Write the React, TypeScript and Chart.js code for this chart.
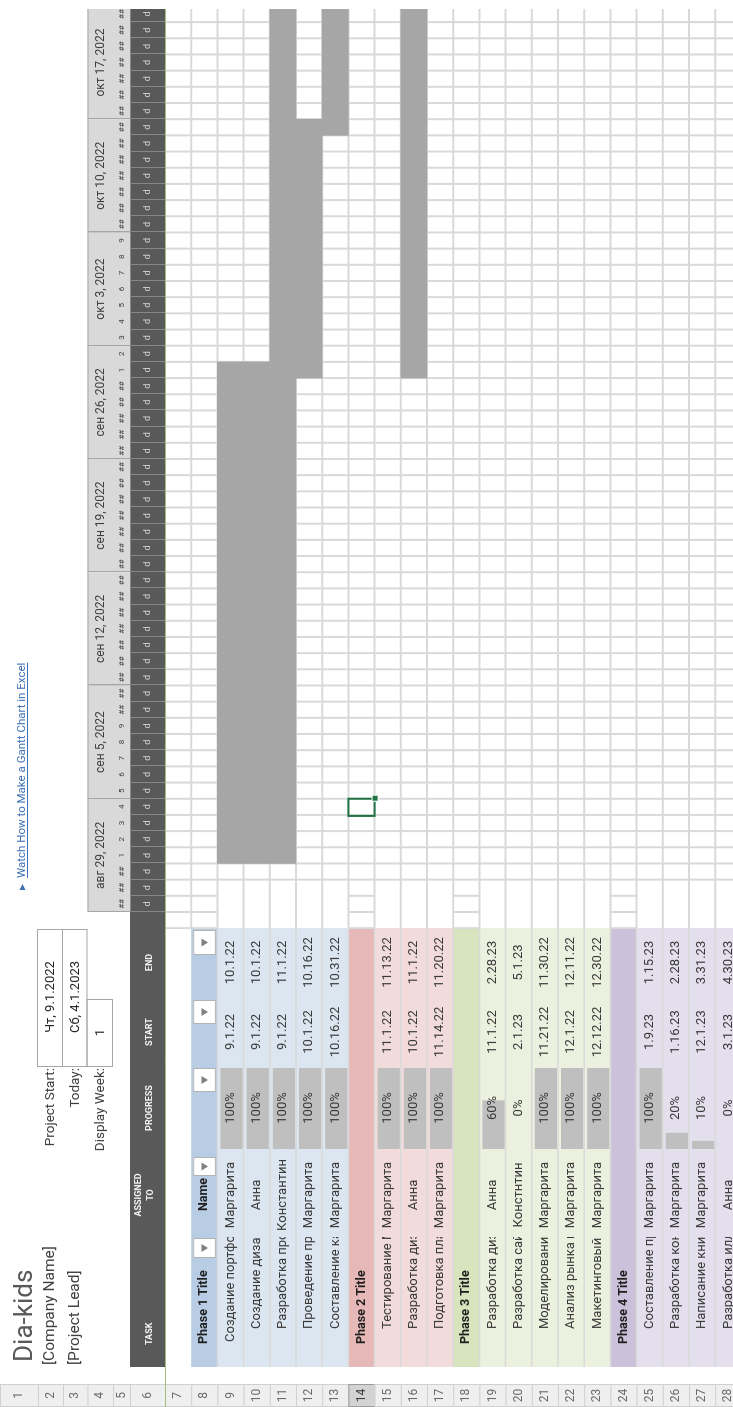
import React, { useEffect, useRef } from 'react';
import { Chart, registerables } from 'chart.js';

Chart.register(...registerables);

// ---------------- data ----------------
const rowIds = ['7', '8', '9', '10', '11', '12', '13', '14', '15', '16', '17', '18', '19', '20', '21', '22', '23', '24', '25', '26', '27', '28'];

const phaseRows = [8, 14, 18, 24];
const phaseTitles = ['Phase 1 Title', 'Phase 2 Title', 'Phase 3 Title', 'Phase 4 Title'];
const phaseHeadColors = ['#b8cce4', '#e6b9b8', '#d7e4bd', '#ccc1da'];
const phaseRowColors = ['#dce6f1', '#f2dcdb', '#ebf1de', '#e4dfec'];

const taskRows = [9, 10, 11, 12, 13, 15, 16, 17, 19, 20, 21, 22, 23, 25, 26, 27, 28];
const taskNames = [
  'Создание портфолио', 'Создание дизайна', 'Разработка программы', 'Проведение презентации', 'Составление каталога',
  'Тестирование Макетов', 'Разработка дизайна', 'Подготовка плана',
  'Разработка дизайна', 'Разработка сайта', 'Моделирование', 'Анализ рынка и конкурентов', 'Макетинговый план',
  'Составление программы', 'Разработка контента', 'Написание книги', 'Разработка иллюстраций',
];
const assignees = [
  'Маргарита', 'Анна', 'Константин', 'Маргарита', 'Маргарита',
  'Маргарита', 'Анна', 'Маргарита',
  'Анна', 'Констнтин', 'Маргарита', 'Маргарита', 'Маргарита',
  'Маргарита', 'Маргарита', 'Маргарита', 'Анна',
];
const progressPct = [100, 100, 100, 100, 100, 100, 100, 100, 60, 0, 100, 100, 100, 100, 20, 10, 0];
const startDates = [
  '9.1.22', '9.1.22', '9.1.22', '10.1.22', '10.16.22',
  '11.1.22', '10.1.22', '11.14.22',
  '11.1.22', '2.1.23', '11.21.22', '12.1.22', '12.12.22',
  '1.9.23', '1.16.23', '12.1.23', '3.1.23',
];
const endDates = [
  '10.1.22', '10.1.22', '11.1.22', '10.16.22', '10.31.22',
  '11.13.22', '11.1.22', '11.20.22',
  '2.28.23', '5.1.23', '11.30.22', '12.11.22', '12.30.22',
  '1.15.23', '2.28.23', '3.31.23', '4.30.23',
];
const weekLabels = ['авг 29, 2022', 'сен 5, 2022', 'сен 12, 2022', 'сен 19, 2022', 'сен 26, 2022', 'окт 3, 2022', 'окт 10, 2022', 'окт 17, 2022'];
const columnHeaders = ['TASK', 'ASSIGNED TO', 'PROGRESS', 'START', 'END'];
const titleText = 'Dia-kids';
const companyText = '[Company Name]';
const leadText = '[Project Lead]';
const projectStartText = 'Чт, 9.1.2022';
const todayText = 'Сб, 4.1.2023';
const displayWeekText = '1';
const linkText = 'Watch How to Make a Gantt Chart in Excel';
const selectedRow = 14;
const selectedDay = 6;

// ---------------- layout ----------------
const SHEET_W = 1407;
const SHEET_H = 733;
const CANVAS_H = 760;
const HEAD_EDGES = [0, 38, 63, 87.5, 113, 130, 165];
const ROW_H = 26.2;
const GANTT_LEFT = 495;
const GANTT_RIGHT = 1398;
const DAY_W = 16.18;
const C = { hdr: 23, task: 40, assigned: 170, progress: 250, start: 341, end: 408, endR: 479 };
const FONT = 'Roboto, "Noto Sans", "DejaVu Sans", sans-serif';
const BASE = Date.UTC(2022, 7, 29);

const dayIndex = (s: string) => {
  const [m, d, y] = s.split('.').map(Number);
  return Math.round((Date.UTC(2000 + y, m - 1, d) - BASE) / 86400000);
};

function phaseOf(r: number) {
  let p = 0;
  phaseRows.forEach((pr, i) => {
    if (r >= pr) p = i;
  });
  return p;
}

function drawSheet(chart: any) {
  const ctx: CanvasRenderingContext2D = chart.ctx;
  const xs = chart.scales.x;
  const ys = chart.scales.y;
  const area = chart.chartArea;
  const first = Number(rowIds[0]);
  const last = Number(rowIds[rowIds.length - 1]);
  const rh = ys.getPixelForValue(1) - ys.getPixelForValue(0);
  const top = (r: number) => (r < first ? HEAD_EDGES[r - 1] : ys.getPixelForValue(r - first) - rh / 2);
  const bot = (r: number) => (r < first ? HEAD_EDGES[r] : ys.getPixelForValue(r - first) + rh / 2);
  const mid = (r: number) => (top(r) + bot(r)) / 2;
  const dx = (d: number) => xs.getPixelForValue(d);
  const right = area.right;
  const nDays = Math.ceil(xs.max);

  const text = (s: string, x: number, y: number, font: string, color: string, align: CanvasTextAlign = 'left') => {
    ctx.font = font;
    ctx.fillStyle = color;
    ctx.textAlign = align;
    ctx.textBaseline = 'middle';
    ctx.fillText(s, x, y);
  };
  const hline = (y: number, x0: number, x1: number) => {
    ctx.beginPath();
    ctx.moveTo(x0, y);
    ctx.lineTo(x1, y);
    ctx.stroke();
  };
  const vline = (x: number, y0: number, y1: number) => {
    ctx.beginPath();
    ctx.moveTo(x, y0);
    ctx.lineTo(x, y1);
    ctx.stroke();
  };

  ctx.save();
  ctx.fillStyle = '#ffffff';
  ctx.fillRect(0, 0, chart.width, chart.height);

  // row header strip
  for (let r = 1; r <= last; r++) {
    const t = top(r);
    const b = bot(r);
    const sel = r === selectedRow;
    ctx.fillStyle = sel ? '#d3d3d3' : '#efefef';
    ctx.fillRect(0, t, C.hdr, b - t);
    ctx.strokeStyle = sel ? '#9b9b9b' : '#d0d0d0';
    ctx.lineWidth = 1;
    ctx.strokeRect(0.5, t + 0.5, C.hdr - 1, b - t);
    text(String(r), C.hdr / 2, (t + b) / 2, `12px ${FONT}`, sel ? '#3a3a3a' : '#6b6b6b', 'center');
  }

  // title block
  text(titleText, 45, 25, `26px ${FONT}`, '#595959');
  text(companyText, 42, 50.5, `15.5px ${FONT}`, '#404040');
  text(leadText, 42, 75.5, `15.5px ${FONT}`, '#404040');
  text('Project Start:', 339, mid(2), `13.5px ${FONT}`, '#404040', 'right');
  text('Today:', 339, mid(3), `13.5px ${FONT}`, '#404040', 'right');
  text('Display Week:', 339, mid(4), `13.5px ${FONT}`, '#404040', 'right');
  ctx.strokeStyle = '#a6a6a6';
  ctx.lineWidth = 1;
  ctx.fillStyle = '#ffffff';
  ctx.strokeRect(C.start - 0.5, top(2) - 0.5, C.endR - C.start - 1, bot(2) - top(2));
  ctx.strokeRect(C.start - 0.5, top(3) - 0.5, C.endR - C.start - 1, bot(3) - top(3));
  ctx.strokeRect(C.start - 0.5, top(4) - 0.5, C.end - C.start, bot(4) - top(4));
  text(projectStartText, (C.start + C.endR) / 2, mid(2), `13px ${FONT}`, '#262626', 'center');
  text(todayText, (C.start + C.endR) / 2, mid(3), `13px ${FONT}`, '#262626', 'center');
  text(displayWeekText, (C.start + C.end) / 2, mid(4), `13px ${FONT}`, '#262626', 'center');

  // link
  ctx.fillStyle = '#3f6fb5';
  ctx.beginPath();
  ctx.moveTo(517, 19.5);
  ctx.lineTo(523, 22.5);
  ctx.lineTo(517, 25.5);
  ctx.closePath();
  ctx.fill();
  text(linkText, 529, 22, `11.5px ${FONT}`, '#3f6fb5');
  const lw = ctx.measureText(linkText).width;
  ctx.strokeStyle = '#3f6fb5';
  ctx.lineWidth = 1;
  hline(27.5, 529, 529 + lw);

  // gantt header: weeks + day numbers
  ctx.save();
  ctx.beginPath();
  ctx.rect(dx(0) - 1, 0, right - dx(0) + 1, chart.height);
  ctx.clip();
  weekLabels.forEach((lab, w) => {
    const x0 = dx(w * 7);
    const x1 = dx(w * 7 + 7);
    ctx.fillStyle = '#d9d9d9';
    ctx.fillRect(x0, top(4), x1 - x0, bot(5) - top(4));
    ctx.strokeStyle = '#a6a6a6';
    ctx.lineWidth = 1;
    ctx.strokeRect(Math.round(x0) + 0.5, top(4) + 0.5, x1 - x0, bot(5) - top(4));
    text(lab, (x0 + x1) / 2, 101, `12px ${FONT}`, '#404040', 'center');
  });
  for (let d = 0; d < nDays; d++) {
    const dom = new Date(BASE + d * 86400000).getUTCDate();
    text(dom >= 10 ? '##' : String(dom), dx(d) + DAY_W / 2, 122, `8px ${FONT}`, '#404040', 'center');
  }
  ctx.restore();

  // row 6 dark band
  ctx.fillStyle = '#595959';
  ctx.fillRect(C.task, top(6), right - C.task, bot(6) - top(6));
  ctx.save();
  ctx.beginPath();
  ctx.rect(dx(0) - 1, top(6), right - dx(0) + 1, bot(6) - top(6));
  ctx.clip();
  ctx.strokeStyle = '#878787';
  ctx.lineWidth = 1;
  for (let d = 0; d <= nDays; d++) vline(Math.round(dx(d)) + 0.5, top(6), bot(6));
  hline(top(6) + 0.5, dx(0), right);
  for (let d = 0; d < nDays; d++) text('d', dx(d) + DAY_W / 2, 147.5, `9px ${FONT}`, '#dedede', 'center');
  ctx.restore();

  // column headers
  const hf = `bold 9px ${FONT}`;
  const hc = '#f2f2f2';
  text(columnHeaders[0], 62, 149.5, hf, hc);
  text('ASSIGNED', 212, 139, hf, hc, 'center');
  text('TO', 212, 151, hf, hc, 'center');
  text(columnHeaders[2], 299, 149.5, hf, hc, 'center');
  text(columnHeaders[3], 375, 149.5, hf, hc, 'center');
  text(columnHeaders[4], 444.5, 149.5, hf, hc, 'center');

  // table fills
  for (let r = phaseRows[0]; r <= last; r++) {
    const p = phaseOf(r);
    ctx.fillStyle = phaseRows.includes(r) ? phaseHeadColors[p] : phaseRowColors[p];
    ctx.fillRect(C.task, top(r), C.endR - C.task, bot(r) - top(r));
  }
  ctx.strokeStyle = '#d9d9d9';
  ctx.lineWidth = 1.5;
  for (let r = phaseRows[0] + 1; r <= last; r++) hline(top(r), C.task, C.endR);

  // phase titles
  phaseRows.forEach((r, i) => text(phaseTitles[i], 63, mid(r), `bold 12.5px ${FONT}`, '#1f1f1f'));

  // header filter row (first phase row)
  const fr = phaseRows[0];
  text('Name', 229, mid(fr), `bold 12.5px ${FONT}`, '#1f1f1f', 'right');
  const buttons = [[149, 169], [231, 250], [315, 339], [383, 407], [452, 477]];
  buttons.forEach(([x0, x1]) => {
    const t = top(fr) + 2;
    const b = bot(fr) - 1.5;
    ctx.fillStyle = '#ffffff';
    ctx.fillRect(x0, t, x1 - x0, b - t);
    ctx.strokeStyle = '#b3b3b3';
    ctx.lineWidth = 1;
    ctx.strokeRect(x0 + 0.5, t + 0.5, x1 - x0 - 1, b - t - 1);
    const cx = (x0 + x1) / 2;
    const cy = (t + b) / 2;
    ctx.fillStyle = '#7f7f7f';
    ctx.beginPath();
    ctx.moveTo(cx - 4, cy - 3);
    ctx.lineTo(cx + 4, cy - 3);
    ctx.lineTo(cx, cy + 3.5);
    ctx.closePath();
    ctx.fill();
  });

  // task rows
  taskRows.forEach((r, i) => {
    const y = mid(r);
    // progress bar
    ctx.fillStyle = '#bfbfbf';
    ctx.fillRect(258, top(r) + 3, (81 * progressPct[i]) / 100, bot(r) - top(r) - 4);
    // task name (clipped)
    ctx.save();
    ctx.beginPath();
    ctx.rect(C.task, top(r), C.assigned - C.task, bot(r) - top(r));
    ctx.clip();
    text(taskNames[i], r === taskRows[0] ? 65 : 78, y, `13px ${FONT}`, '#3a3a3a');
    ctx.restore();
    ctx.save();
    ctx.beginPath();
    ctx.rect(C.assigned, top(r), C.progress - C.assigned, bot(r) - top(r));
    ctx.clip();
    text(assignees[i], 212, y, `13px ${FONT}`, '#3a3a3a', 'center');
    ctx.restore();
    text(`${progressPct[i]}%`, 299, y, `13px ${FONT}`, '#3a3a3a', 'center');
    text(startDates[i], 375, y, `13px ${FONT}`, '#3a3a3a', 'center');
    text(endDates[i], 444.5, y, `13px ${FONT}`, '#3a3a3a', 'center');
  });

  // gantt grid
  ctx.save();
  ctx.beginPath();
  ctx.rect(dx(-1) - 1, top(first), right - dx(-1) + 1, bot(last) - top(first));
  ctx.clip();
  ctx.strokeStyle = '#d9d9d9';
  ctx.lineWidth = 2;
  for (let r = first; r <= last; r++) {
    const isTask = taskRows.includes(r);
    hline(bot(r), dx(-1), right);
    for (let d = -1; d <= nDays; d++) {
      if (isTask && d <= 1) continue;
      vline(dx(d), top(r), bot(r));
    }
  }
  ctx.restore();
  ctx.restore();
}

function drawOverlay(chart: any) {
  const ctx: CanvasRenderingContext2D = chart.ctx;
  const xs = chart.scales.x;
  const ys = chart.scales.y;
  const area = chart.chartArea;
  const first = Number(rowIds[0]);
  const rh = ys.getPixelForValue(1) - ys.getPixelForValue(0);
  const t = ys.getPixelForValue(selectedRow - first) - rh / 2;
  const x0 = xs.getPixelForValue(selectedDay);
  const x1 = xs.getPixelForValue(selectedDay + 1);
  ctx.save();
  ctx.strokeStyle = '#217346';
  ctx.lineWidth = 2;
  ctx.strokeRect(x0 - 1, t, x1 - x0 + 1, rh);
  ctx.fillStyle = '#ffffff';
  ctx.fillRect(x1 - 3, t + rh - 3, 7, 7);
  ctx.fillStyle = '#217346';
  ctx.fillRect(x1 - 2, t + rh - 2, 5, 5);
  // freeze pane line
  ctx.strokeStyle = '#a3bd7c';
  ctx.lineWidth = 1;
  ctx.beginPath();
  ctx.moveTo(0, area.top + 0.5);
  ctx.lineTo(area.right, area.top + 0.5);
  ctx.stroke();
  ctx.restore();
}

const sheetPlugin = {
  id: 'sheet',
  beforeDatasetsDraw: (chart: any) => drawSheet(chart),
  afterDatasetsDraw: (chart: any) => drawOverlay(chart),
};

export default function App() {
  const ref = useRef<HTMLCanvasElement>(null);
  useEffect(() => {
    document.body.style.margin = '0';
    document.body.style.overflow = 'hidden';
    document.documentElement.style.overflow = 'hidden';
    const tableTop = HEAD_EDGES[HEAD_EDGES.length - 1];
    const chart = new Chart(ref.current as HTMLCanvasElement, {
      type: 'bar',
      data: {
        labels: rowIds,
        datasets: [
          {
            data: taskRows.map((r, i) => ({ x: [dayIndex(startDates[i]), dayIndex(endDates[i]) + 1], y: String(r) })) as any,
            backgroundColor: '#a6a6a6',
            borderWidth: 0,
            barPercentage: 1,
            categoryPercentage: 1,
            clip: 0,
          } as any,
        ],
      },
      options: {
        indexAxis: 'y',
        responsive: false,
        maintainAspectRatio: false,
        animation: false,
        devicePixelRatio: 1,
        events: [],
        layout: {
          padding: {
            left: GANTT_LEFT,
            right: SHEET_W - GANTT_RIGHT,
            top: tableTop,
            bottom: CANVAS_H - (tableTop + rowIds.length * ROW_H),
          },
        },
        scales: {
          x: { type: 'linear', min: 0, max: (GANTT_RIGHT - GANTT_LEFT) / DAY_W, display: false, grid: { display: false } },
          y: { type: 'category', display: false, grid: { display: false } },
        },
        plugins: { legend: { display: false }, tooltip: { enabled: false }, title: { display: false } },
      } as any,
      plugins: [sheetPlugin],
    });
    const fonts: any = (document as any).fonts;
    if (fonts && fonts.ready) fonts.ready.then(() => chart.draw());
    return () => {
      chart.destroy();
    };
  }, []);

  return (
    <div
      style={{
        position: 'fixed',
        left: 0,
        top: 0,
        width: SHEET_W,
        height: SHEET_H,
        overflow: 'hidden',
        background: '#ffffff',
        transformOrigin: '0 0',
        transform: `translate(0px, ${SHEET_W}px) rotate(-90deg)`,
      }}
    >
      <canvas ref={ref} width={SHEET_W} height={CANVAS_H} style={{ display: 'block' }} />
    </div>
  );
}
